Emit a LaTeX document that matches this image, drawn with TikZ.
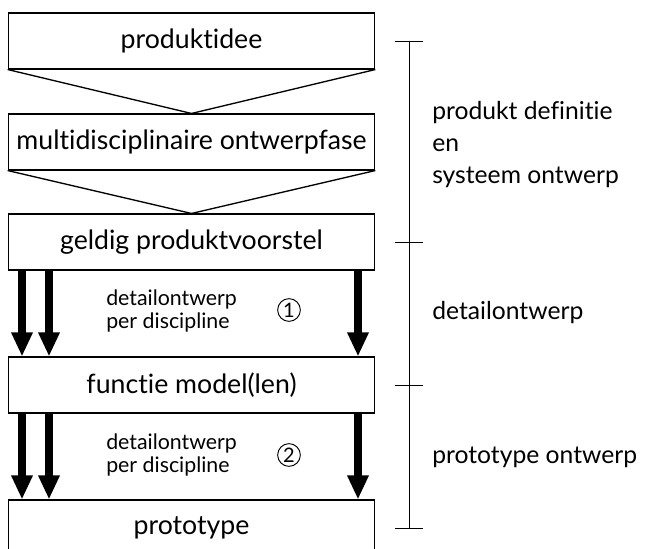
\documentclass[tikz,border=0pt]{standalone}
\usepackage{fontspec}
\setmainfont{Lato}[Ligatures=NoCommon]
\usetikzlibrary{arrows.meta}
\begin{document}
\begin{tikzpicture}[x=0.75pt,y=-0.75pt,
  stage/.style={draw,line width=0.8pt,minimum width=275pt,minimum height=42pt,inner sep=0pt,font=\fontsize{20}{24}\selectfont},
  flow/.style={line width=5.5pt,-{Triangle[width=15pt,length=18pt]}},
  note/.style={anchor=west,align=left,inner sep=0pt,font=\fontsize{16}{17.5}\selectfont},
  phase/.style={anchor=west,align=left,inner sep=0pt,font=\fontsize{18.5}{24}\selectfont},
  stepno/.style={circle,draw,line width=0.7pt,minimum size=17pt,inner sep=0pt,font=\fontsize{15}{15}\selectfont}]
\useasboundingbox (0,0) rectangle (650,549);
\clip (0,0) rectangle (650,549);
\node[stage] (idee) at (191.5,41) {produktidee};
\node[stage] (multi) at (191.5,142) {multidisciplinaire ontwerpfase};
\node[stage] (voorstel) at (191.5,242) {geldig produktvoorstel};
\node[stage] (model) at (191.5,385) {functie model(len)};
\node[stage] (proto) at (191.5,528) {prototype};
\draw[line width=1pt] (idee.south west) -- (multi.north) -- (idee.south east);
\draw[line width=1pt] (multi.south west) -- (voorstel.north) -- (multi.south east);
\coordinate (colA) at (22,0);
\coordinate (colB) at (49,0);
\coordinate (colC) at (358,0);
\foreach \c in {colA,colB,colC}{
  \draw[flow] (\c |- voorstel.south) -- (\c |- model.north);
  \draw[flow] (\c |- model.south) -- (\c |- proto.north);
}
\node[note] (stap1) at (106,311) {detailontwerp\\per discipline};
\node[stepno] (nr1) at (289,310) {1};
\node[note] (stap2) at (106,455) {detailontwerp\\per discipline};
\node[stepno] (nr2) at (289,455) {2};
\coordinate (rail) at (409,0);
\draw[line width=0.6pt] (rail |- idee.center) -- (rail |- proto.center);
\foreach \n in {idee,voorstel,model,proto}
  \draw[line width=0.6pt] (rail |- \n.center) ++(-14,0) -- ++(28,0);
\node[phase] (defn) at (432,145) {produkt definitie\\en\\systeem ontwerp};
\node[phase] (detail) at (432,313) {detailontwerp};
\node[phase] (protofase) at (432,457) {prototype ontwerp};
\end{tikzpicture}
\end{document}
